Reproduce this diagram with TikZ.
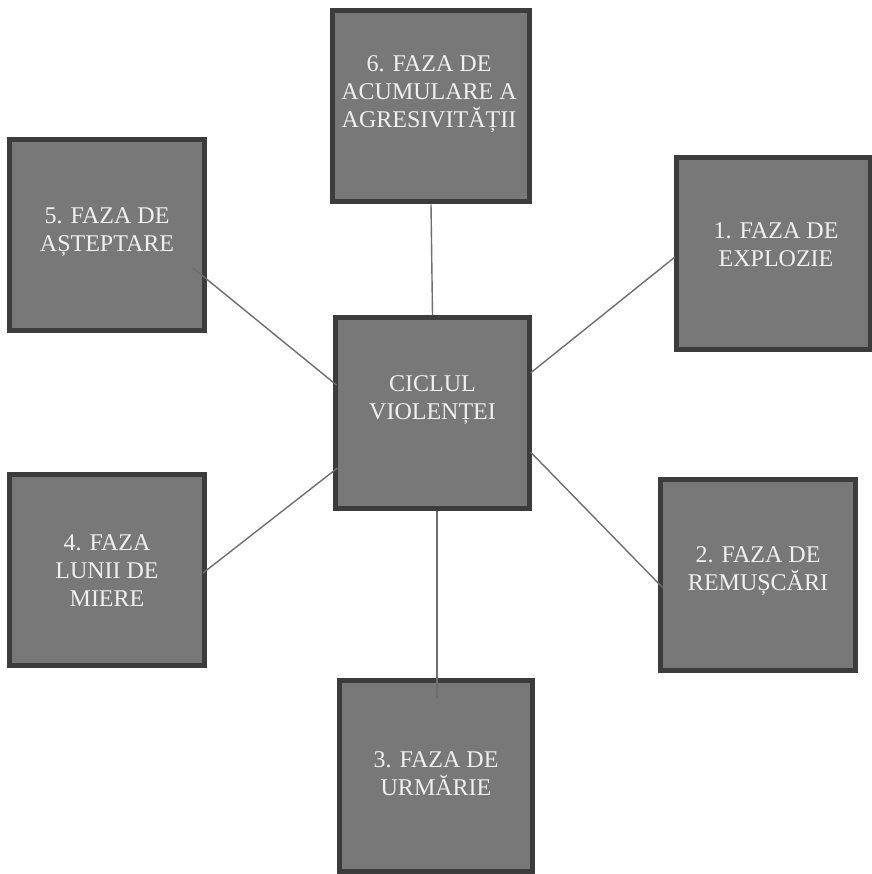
\documentclass[tikz,border=0pt]{standalone}
\usepackage{fontspec}
\setmainfont{Liberation Serif}
\usetikzlibrary{calc}
\definecolor{boxfill}{HTML}{787878}
\definecolor{boxline}{HTML}{3C3C3C}
\definecolor{linkgray}{HTML}{6E6E6E}
\begin{document}
\begin{tikzpicture}[x=1pt, y=-1pt,
                    box/.style={draw=boxline, fill=boxfill, line width=5pt, rectangle, minimum width=194pt, minimum height=191pt, inner sep=0pt},
                    txt/.style={align=center, text=white!94!black, font=\fontsize{24}{28}\selectfont, inner sep=0pt},
                    link/.style={draw=linkgray, line width=1.4pt}]
  \useasboundingbox (0,0) rectangle (871,874);
  % boxes
  \node(ctr)[box] at (432.5,413) {};
  \node(b6)[box, minimum width=197pt] at (431,106.5) {};
  \node(b1)[box] at (773,253.5) {};
  \node(b2)[box, minimum width=195pt] at (758,575) {};
  \node(b3)[box, minimum width=193pt] at (436,776) {};
  \node(b4)[box, minimum width=195pt] at (107,569.5) {};
  \node(b5)[box, minimum width=195pt] at (107,235) {};
  % texts
  \node(t_ctr)[txt] at ($(ctr.center)+(0,-13)$) {CICLUL\\VIOLENȚEI};
  \node(t6)[txt] at ($(b6.center)+(-2,-12)$) {6. FAZA DE\\ACUMULARE A\\AGRESIVITĂȚII};
  \node(t1)[txt] at ($(b1.center)+(3,-9)$) {1. FAZA DE\\EXPLOZIE};
  \node(t2)[txt] at ($(b2.center)+(0,-4)$) {2. FAZA DE\\REMUȘCĂRI};
  \node(t3)[txt] at ($(b3.center)+(0,-2)$) {3. FAZA DE\\URMĂRIE};
  \node(t4)[txt] at ($(b4.center)+(0,1)$) {4. FAZA\\LUNII DE\\MIERE};
  \node(t5)[txt] at ($(b5.center)+(0,-3)$) {5. FAZA DE\\AȘTEPTARE};
  % connectors
  \draw[link] (b6.south) -- (ctr.north);
  \draw[link] ($(ctr.center)+(98,-40)$) -- ($(b1.center)+(-98,3.5)$);
  \draw[link] ($(ctr.center)+(98,39)$) -- ($(b2.center)+(-95,13)$);
  \draw[link] ($(ctr.center)+(4.5,98)$) -- ($(b3.center)+(1,-78)$);
  \draw[link] ($(ctr.center)+(-95,55)$) -- ($(b4.center)+(96,3.5)$);
  \draw[link] ($(ctr.center)+(-96,-28)$) -- ($(b5.center)+(86,33)$);
\end{tikzpicture}
\end{document}
